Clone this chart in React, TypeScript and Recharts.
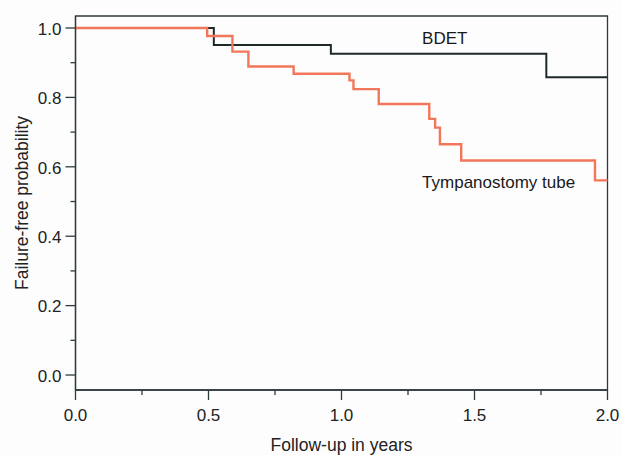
import { LineChart, Line, XAxis, YAxis, ReferenceDot, ReferenceArea } from "recharts"

// Kaplan-Meier style step curves
const bdetTimes = [0, 0.52, 0.96, 1.77, 2.0]
const bdetSurvival = [1.0, 0.951, 0.926, 0.858, 0.858]

const tubeTimes = [0, 0.495, 0.59, 0.65, 0.82, 1.03, 1.045, 1.14, 1.33, 1.352, 1.37, 1.45, 1.953, 2.0]
const tubeSurvival = [1.0, 0.977, 0.932, 0.889, 0.868, 0.849, 0.824, 0.781, 0.738, 0.713, 0.665, 0.618, 0.561, 0.561]

const xTicks = [0, 0.25, 0.5, 0.75, 1.0, 1.25, 1.5, 1.75, 2.0]
const yTicks = [0, 0.1, 0.2, 0.3, 0.4, 0.5, 0.6, 0.7, 0.8, 0.9, 1.0]

const bdetData = bdetTimes.map((t, i) => ({ t, s: bdetSurvival[i] }))
const tubeData = tubeTimes.map((t, i) => ({ t, s: tubeSurvival[i] }))

const FONT = "'Liberation Sans', Arial, Helvetica, sans-serif"
const AXIS = "#2f3a3c"
const Y_DOMAIN = [-0.0432, 1.0346]

const YTick = ({ x, y, payload, index }: any) => {
  const major = index % 2 === 0
  return (
    <g>
      <line x1={x - (major ? 10 : 5)} x2={x} y1={y} y2={y} stroke={AXIS} strokeWidth={1.3} />
      {major && (
        <text x={x - 14} y={y} dy="0.4em" textAnchor="end" fontSize={17} fill="#222" fontFamily={FONT}>
          {payload.value.toFixed(1)}
        </text>
      )}
    </g>
  )
}

const XTick = ({ x, y, payload, index }: any) => {
  const major = index % 2 === 0
  return (
    <g>
      <line x1={x} x2={x} y1={y} y2={y + (major ? 10 : 5)} stroke={AXIS} strokeWidth={1.3} />
      {major && (
        <text x={x} y={y + 31} textAnchor="middle" fontSize={17} fill="#222" fontFamily={FONT}>
          {payload.value.toFixed(1)}
        </text>
      )}
    </g>
  )
}

const note = (txt: string) => (p: any) => (
  <text x={p.viewBox.x} y={p.viewBox.y} fontSize={17} fill="#1a1a1a" fontFamily={FONT}>
    {txt}
  </text>
)

export default function App() {
  return (
    <div style={{ position: "absolute", left: 0, top: 0, width: 622, height: 455, background: "#fdfdfe" }}>
      <LineChart width={622} height={455} margin={{ top: 16, right: 14.5, left: 15.5, bottom: 0 }}>
        <XAxis
          dataKey="t"
          type="number"
          domain={[0, 2]}
          ticks={xTicks}
          interval={0}
          tickSize={0}
          tickMargin={0}
          tickLine={false}
          tick={<XTick />}
          height={65}
          axisLine={{ stroke: AXIS, strokeWidth: 1.3 }}
          label={{ value: "Follow-up in years", position: "insideBottom", offset: 4, fontSize: 17.5, fill: "#222", fontFamily: FONT }}
        />
        <YAxis
          type="number"
          domain={Y_DOMAIN}
          allowDataOverflow
          ticks={yTicks}
          interval={0}
          tickSize={0}
          tickMargin={0}
          tickLine={false}
          tick={<YTick />}
          width={60}
          axisLine={{ stroke: AXIS, strokeWidth: 1.3 }}
          label={{ value: "Failure-free probability", angle: -90, position: "insideLeft", offset: 6, fontSize: 17.5, fill: "#222", fontFamily: FONT, style: { textAnchor: "middle" } }}
        />
        <ReferenceArea x1={0} x2={2} y1={Y_DOMAIN[0]} y2={Y_DOMAIN[1]} fill="none" stroke={AXIS} strokeWidth={1.3} fillOpacity={0} ifOverflow="visible" />
        <Line data={bdetData} dataKey="s" type="stepAfter" stroke="#1e2a2a" strokeWidth={2} dot={false} isAnimationActive={false} />
        <Line data={tubeData} dataKey="s" type="stepAfter" stroke="#f2775a" strokeWidth={2.4} dot={false} isAnimationActive={false} />
        <ReferenceDot x={1.303} y={0.954} r={0} fill="none" stroke="none" label={{ content: note("BDET") }} />
        <ReferenceDot x={1.303} y={0.538} r={0} fill="none" stroke="none" label={{ content: note("Tympanostomy tube") }} />
      </LineChart>
    </div>
  )
}
